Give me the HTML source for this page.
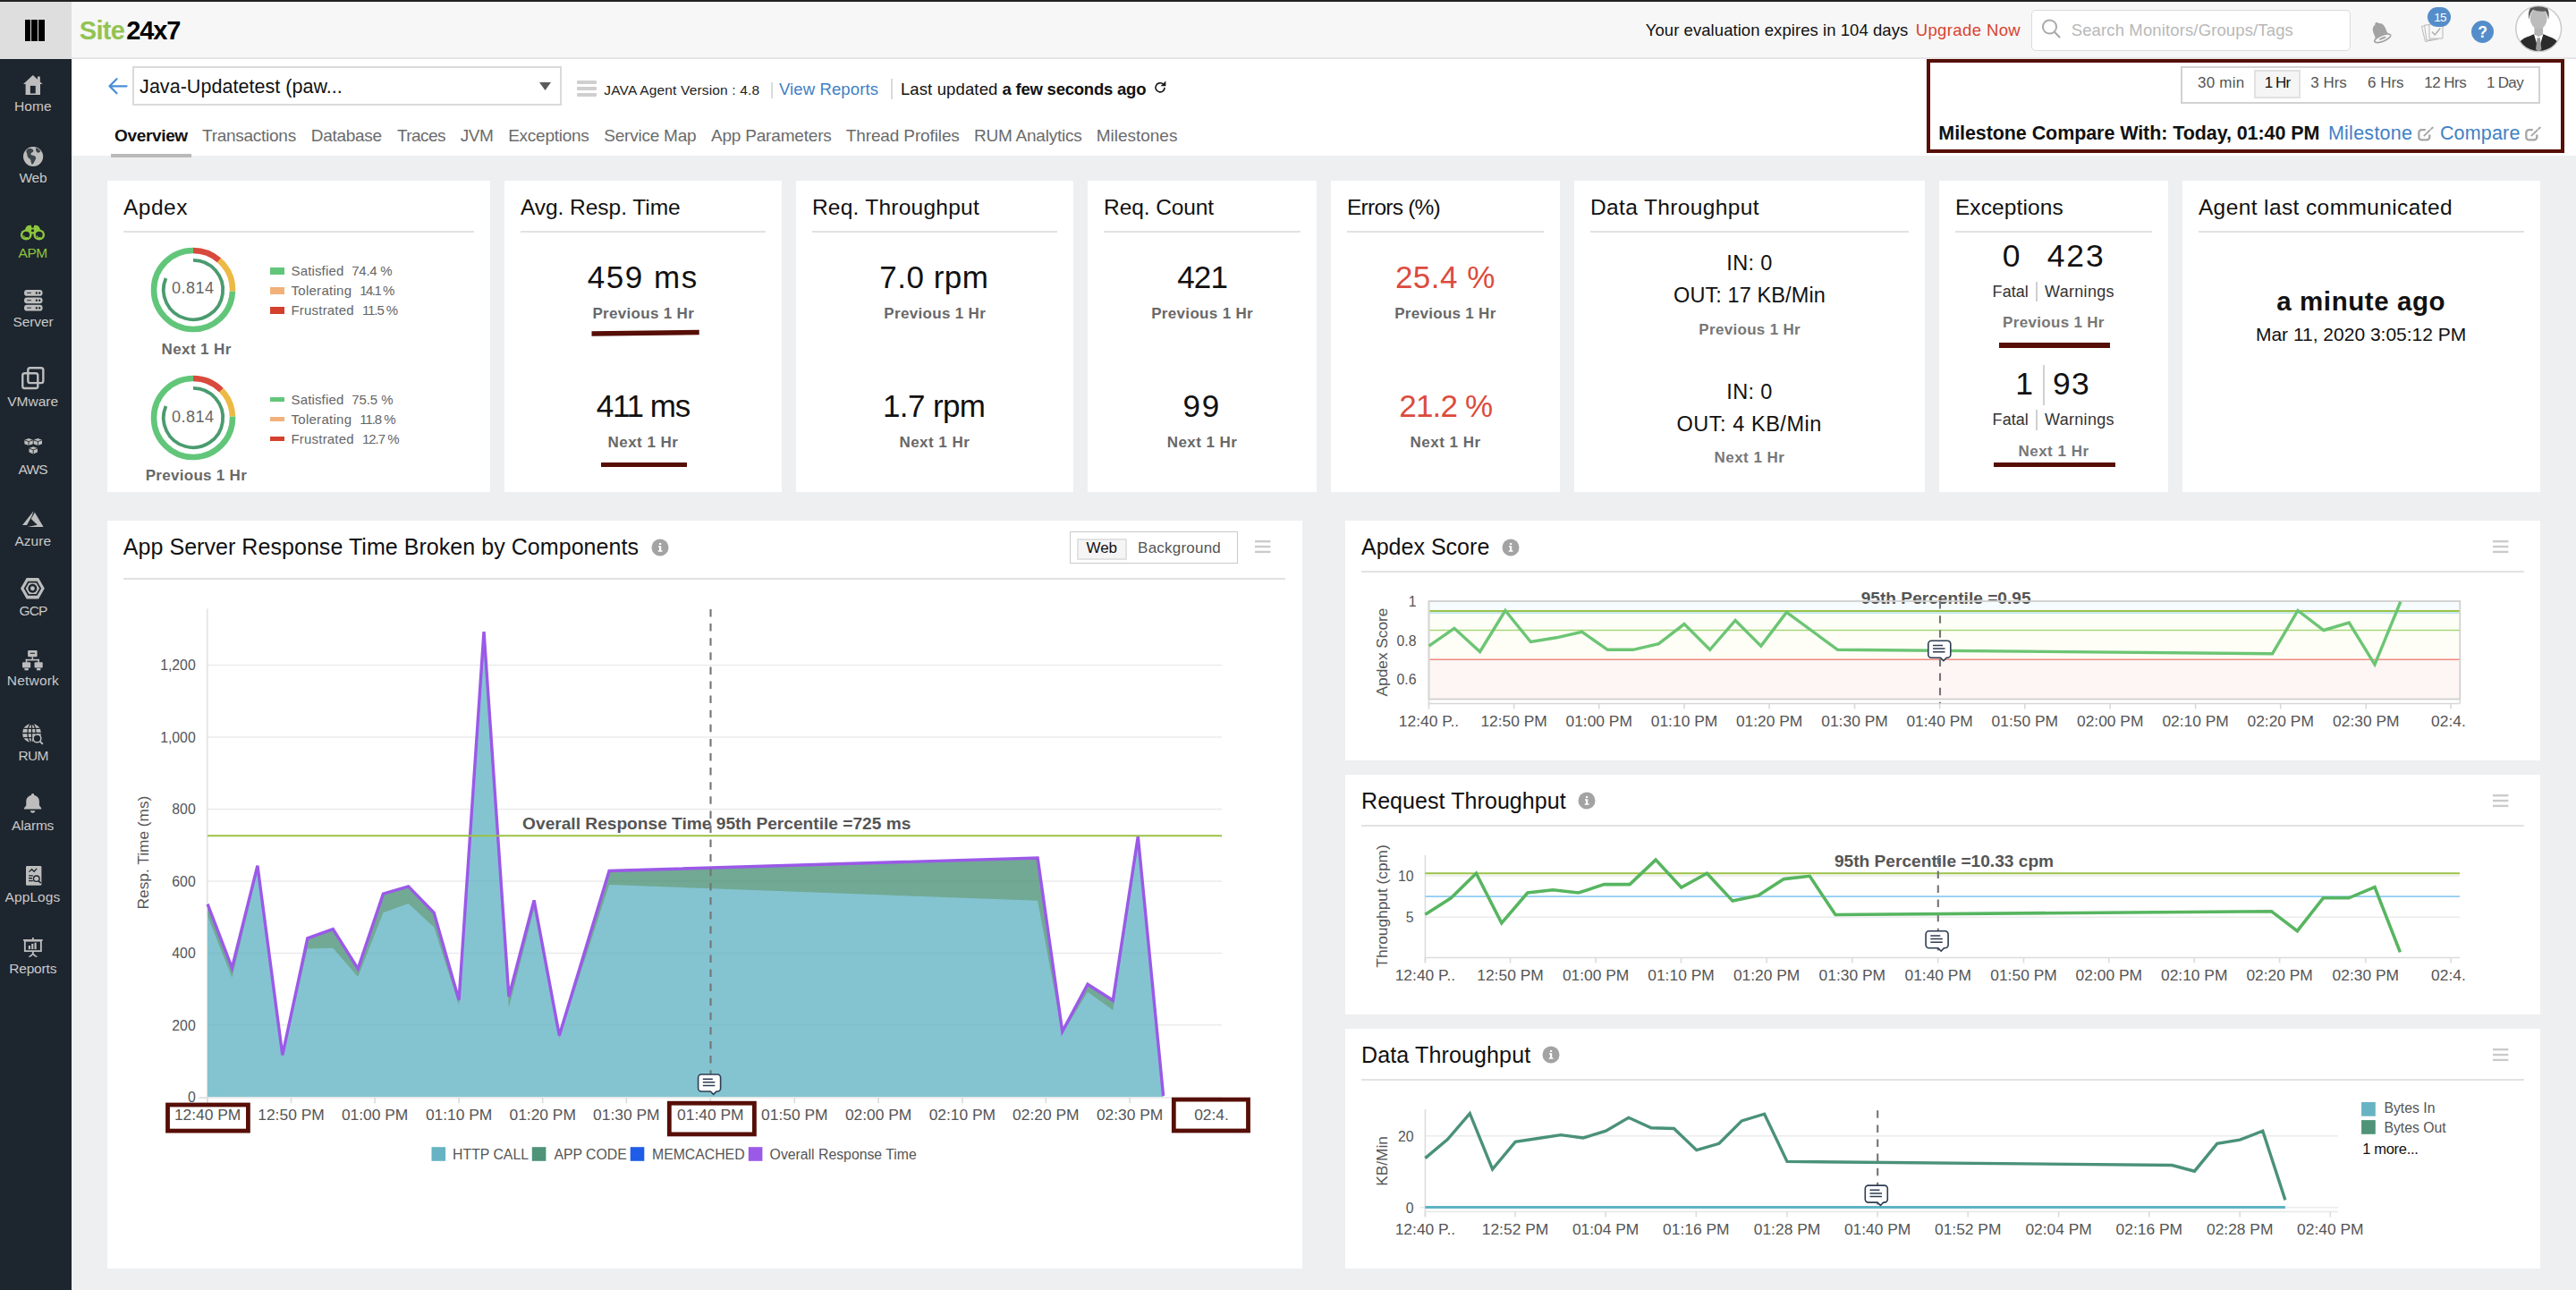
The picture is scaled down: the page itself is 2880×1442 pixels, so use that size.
<!DOCTYPE html>
<html lang="en"><head><meta charset="utf-8"><title>Site24x7 - APM Overview</title>
<style>
html,body{margin:0;padding:0;}
body{width:2880px;height:1442px;overflow:hidden;background:#eeeff1;font-family:"Liberation Sans",Arial,sans-serif;position:relative;}
.t{position:absolute;white-space:nowrap;line-height:1;}
svg{overflow:visible;}
svg text{font-family:"Liberation Sans",Arial,sans-serif;}
</style></head><body>
<div style="position:absolute;left:0.0px;top:0.0px;width:2880.0px;height:2.0px;background:#222;"></div>
<div style="position:absolute;left:0.0px;top:2.0px;width:2880.0px;height:62.0px;background:#f7f7f7;"></div>
<div style="position:absolute;left:0.0px;top:64.0px;width:2880.0px;height:2.0px;background:#e6e6e6;"></div>
<div style="position:absolute;left:0.0px;top:2.0px;width:80.0px;height:64.0px;background:#dedede;"></div>
<div style="position:absolute;left:27.8px;top:21.7px;width:6.2px;height:24.5px;background:#000;"></div>
<div style="position:absolute;left:35.3px;top:21.7px;width:6.6px;height:24.5px;background:#000;"></div>
<div style="position:absolute;left:43.2px;top:21.7px;width:6.8px;height:24.5px;background:#000;"></div>
<span class="t" style="left:88.8px;top:20.0px;font-size:29.00px;letter-spacing:-0.672px;font-weight:700;color:#92c353;">Site</span>
<span class="t" style="left:141.3px;top:20.0px;font-size:29.00px;letter-spacing:-1.104px;font-weight:700;color:#000;">24x7</span>
<span class="t" style="left:1839.8px;top:25.0px;font-size:18.50px;letter-spacing:0.060px;color:#111;">Your evaluation expires in 104 days</span>
<span class="t" style="left:2141.7px;top:25.0px;font-size:18.50px;letter-spacing:0.389px;color:#d9432f;">Upgrade Now</span>
<div style="position:absolute;left:2271.0px;top:10.8px;width:356.5px;height:46.6px;background:#fff;border:1.5px solid #dcdcdc;border-radius:5px;box-sizing:border-box;"></div>
<svg style="position:absolute;left:2279px;top:18px" width="28" height="28" viewBox="0 0 28 28"><circle cx="12.5" cy="12" r="7.6" fill="none" stroke="#aaa" stroke-width="2"/><path d="M18 17.8 L23.5 23.5" stroke="#aaa" stroke-width="2.2" stroke-linecap="round"/></svg>
<span class="t" style="left:2315.7px;top:25.0px;font-size:18.50px;letter-spacing:0.132px;color:#b8b8b8;">Search Monitors/Groups/Tags</span>
<svg style="position:absolute;left:2648px;top:21.500px" width="26" height="28" viewBox="0 0 26 28"><g transform="rotate(-22 13 14)"><path d="M13 2.200c-1.100 0-1.900.8-1.900 1.800-3.300.9-5.300 3.700-5.300 7.500v5.800l-1.700 2.500h17.800l-1.700-2.500v-5.800c0-3.800-2-6.600-5.300-7.500 0-1-.8-1.800-1.900-1.800z" fill="#a3a3a3"/><ellipse cx="13" cy="21.300" rx="9.600" ry="3.400" fill="#f7f7f7" stroke="#a3a3a3" stroke-width="1.700"/><ellipse cx="13" cy="21.300" rx="4.200" ry="1.100" fill="#a3a3a3"/></g></svg>
<svg style="position:absolute;left:2706px;top:25px" width="27" height="24" viewBox="0 0 27 24"><g fill="#f7f7f7" stroke="#b9b9b9" stroke-width="1"><path d="M1.500 4.500 L14 2 L18 19 L5.500 21.500 Z"/><path d="M4.500 3.200 L18 2.200 L20 18.800 L7 20 Z"/><path d="M10 2h15v16H10z"/></g><path d="M13 10.500l3.300 3.500 6-7.500" fill="none" stroke="#a9a9a9" stroke-width="1.300"/></svg>
<div style="position:absolute;left:2713.9px;top:7.9px;width:26.2px;height:22.2px;background:#548dc9;border-radius:11.100px;"></div>
<span class="t" style="left:2721.2px;top:13.0px;font-size:13.50px;letter-spacing:-0.808px;color:#fff;">15</span>
<div style="position:absolute;left:2762.8px;top:22.7px;width:25.2px;height:25.0px;background:#548dc9;border-radius:50%;"></div>
<span class="t" style="left:2770.2px;top:28.0px;font-size:17.50px;letter-spacing:0.110px;font-weight:700;color:#fff;">?</span>
<svg style="position:absolute;left:2811px;top:5px" width="54" height="54" viewBox="0 0 54 54"><defs><clipPath id="avc"><circle cx="27.200" cy="27.100" r="24.800"/></clipPath></defs><circle cx="27.200" cy="27.100" r="25.400" fill="#fff" stroke="#cdcdcd" stroke-width="1.600"/><g clip-path="url(#avc)"><g transform="translate(27.200 56) scale(1.140) translate(-27.200 -56)"><path d="M5 54c0-9 5-13.500 13-16l5.500-2.500h7.500l5.500 2.500c8 2.500 13 7 13 16z" fill="#2b2b2b"/><path d="M22.500 35.500l4.700 16 4.700-16-4.700 2.500z" fill="#fff"/><path d="M25.800 39.500h2.800l1.400 11-2.800 3.500-2.800-3.500z" fill="#9a9a9a"/><path d="M23 29h8.500v6.500l-4.300 3-4.200-3z" fill="#b5b5b5"/><ellipse cx="27.200" cy="20.500" rx="8.300" ry="10.500" fill="#bcbcbc"/><path d="M17.800 21.500c-2-9.500 2.500-16 9.500-16s11.500 6 9.500 16c-.5-3.500-1.500-6-3-8-4.500.5-9 0-12-1.500-2 2-3.500 5-4 9.500z" fill="#585858"/></g></g></svg>
<div style="position:absolute;left:0.0px;top:66.0px;width:80.0px;height:1376.0px;background:#1d252e;"></div>
<svg style="position:absolute;left:26.1px;top:83.9px" width="21.6" height="21.9" viewBox="1.5 2 25 23" preserveAspectRatio="none"><path d="M14 2 L1.5 12.5 L4.5 12.5 L4.5 25 L23.5 25 L23.5 12.5 L26.5 12.5 L23.3 9.8 L23.3 3.6 L20 3.6 L20 7 Z" fill="#bdbdbd"/><rect x="10.6" y="14.5" width="6.8" height="9" fill="#1d252e"/></svg>
<span class="t" style="left:16.1px;top:111.0px;font-size:15.50px;letter-spacing:0.038px;color:#c9c9c9;">Home</span>
<svg style="position:absolute;left:25.8px;top:164.1px" width="22.2" height="21.9" viewBox="2 2 24 24" preserveAspectRatio="none"><circle cx="14" cy="14" r="12" fill="#bdbdbd"/><path d="M8 4.500c2.500-.5 5 0 6 1.500s-.5 2.500-2 3.500-1 2.500.5 3 3.500.5 4.500 2-.5 3.500-1.500 5.500-2 4-3 3.500-1-3-1.500-5-2.500-2-3.500-4-.5-4-1.500-5.500 0-3.500 2-4.500z M17.500 3.500c2 .5 4 2 5.500 4.500l-2.500 1.500c-1.500 0-2.500-1-3-2.500s-.5-2.500 0-3.500z" fill="#1d252e" opacity=".8"/></svg>
<span class="t" style="left:21.4px;top:191.0px;font-size:15.50px;letter-spacing:-0.197px;color:#c9c9c9;">Web</span>
<svg style="position:absolute;left:22.4px;top:251.1px" width="29.0" height="17.4" viewBox="0 3 32 20.5" preserveAspectRatio="none"><path d="M7 8.500 q1.500 -5.500 7 -4.500 l1 3.500 h2 l1 -3.500 q5.500 -1 7 4.500 l3 7 h-24z" fill="#8dc63f"/><circle cx="8" cy="16.500" r="7" fill="#8dc63f"/><circle cx="24" cy="16.500" r="7" fill="#8dc63f"/><circle cx="8" cy="16.500" r="4.300" fill="#1d252e"/><circle cx="24" cy="16.500" r="4.300" fill="#1d252e"/><path d="M5 17.500a3.200 3.200 0 0 0 5 2.300M21 17.500a3.200 3.200 0 0 0 5 2.300" fill="none" stroke="#8dc63f" stroke-width="1.300"/><circle cx="16" cy="11" r="1.800" fill="#1d252e"/></svg>
<span class="t" style="left:20.6px;top:275.0px;font-size:15.50px;letter-spacing:-0.497px;color:#8dc63f;">APM</span>
<svg style="position:absolute;left:26.6px;top:324.4px" width="20.6" height="23.6" viewBox="1 1 26 27" preserveAspectRatio="none"><g fill="#bdbdbd"><rect x="1" y="1" width="26" height="7.800" rx="3.900"/><rect x="1" y="10.600" width="26" height="7.800" rx="3.900"/><rect x="1" y="20.200" width="26" height="7.800" rx="3.900"/></g><g fill="#1d252e"><circle cx="18.500" cy="4.900" r="1.400"/><circle cx="22.700" cy="4.900" r="1.400"/><circle cx="18.500" cy="14.500" r="1.400"/><circle cx="22.700" cy="14.500" r="1.400"/><circle cx="18.500" cy="24.100" r="1.400"/><circle cx="22.700" cy="24.100" r="1.400"/><rect x="5" y="4.300" width="6" height="1.100"/><rect x="5" y="13.900" width="6" height="1.100"/><rect x="5" y="23.500" width="6" height="1.100"/></g></svg>
<span class="t" style="left:14.4px;top:352.0px;font-size:15.50px;letter-spacing:-0.076px;color:#c9c9c9;">Server</span>
<svg style="position:absolute;left:24.1px;top:409.6px" width="25.6" height="25.3" viewBox="0.2 0.2 26.6 26.6" preserveAspectRatio="none"><g fill="none" stroke="#bdbdbd" stroke-width="2.500"><rect x="7.800" y="1.500" width="17.700" height="17.700" rx="2.500"/><rect x="1.500" y="7.800" width="17.700" height="17.700" rx="2.500"/></g></svg>
<span class="t" style="left:8.2px;top:441.0px;font-size:15.50px;letter-spacing:0.009px;color:#c9c9c9;">VMware</span>
<svg style="position:absolute;left:26.8px;top:490.3px" width="20.4" height="17.9" viewBox="2.5 1 23 24" preserveAspectRatio="none"><g fill="#bdbdbd"><path d="M8.200 1l5.300 2.300v6l-5.300 2.500-5.300-2.500v-6z"/><path d="M19.800 1l5.300 2.300v6l-5.300 2.500-5.300-2.500v-6z"/><path d="M14 13.500l5.300 2.300v6L14 24.500l-5.300-2.700v-6z"/></g><g stroke="#1d252e" stroke-width="1.100" fill="none"><path d="M2.900 3.500l5.300 2.300 5.300-2.300M8.200 5.800v6M14.500 3.500l5.300 2.300 5.300-2.300M19.800 5.800v6M8.700 16l5.300 2.300 5.300-2.300M14 18.300v6"/></g></svg>
<span class="t" style="left:20.6px;top:517.0px;font-size:15.50px;letter-spacing:-0.811px;color:#c9c9c9;">AWS</span>
<svg style="position:absolute;left:24.8px;top:571.1px" width="23.6" height="18.1" viewBox="1 2 26 22" preserveAspectRatio="none"><path d="M15 2 L1 21.500 L6.500 21.500 L12.500 9.500 Z M16.300 4.200 L27 24 L7.500 24 L19.500 21.300 L11.800 12.800 Z" fill="#bdbdbd"/></svg>
<span class="t" style="left:16.4px;top:597.0px;font-size:15.50px;letter-spacing:0.041px;color:#c9c9c9;">Azure</span>
<svg style="position:absolute;left:23.4px;top:646.4px" width="26.8" height="23.6" viewBox="1.5 2 26 23" preserveAspectRatio="none"><path d="M8 2h13l6.500 11.500L21 25H8L1.500 13.500z" fill="#bdbdbd"/><path d="M10 6.500h9l4 7-4 7h-9l-4-7z" fill="none" stroke="#1d252e" stroke-width="1.700"/><circle cx="14.500" cy="13.500" r="4.800" fill="#1d252e"/><circle cx="14.500" cy="13.500" r="2.400" fill="#bdbdbd"/></svg>
<span class="t" style="left:21.6px;top:675.0px;font-size:15.50px;letter-spacing:-0.930px;color:#c9c9c9;">GCP</span>
<svg style="position:absolute;left:25.4px;top:727.1px" width="22.7" height="22.3" viewBox="1 1 26 24.5" preserveAspectRatio="none"><g fill="#bdbdbd"><rect x="8" y="1" width="12" height="8" rx="1.200"/><rect x="1" y="15.500" width="10.500" height="7" rx="1.200"/><rect x="16.500" y="15.500" width="10.500" height="7" rx="1.200"/><rect x="13.100" y="9" width="1.800" height="4"/><rect x="5.300" y="11.800" width="17.400" height="1.800"/><rect x="5.300" y="11.800" width="1.800" height="4.500"/><rect x="20.900" y="11.800" width="1.800" height="4.500"/><rect x="3.800" y="23" width="5" height="2.500"/><rect x="19.300" y="23" width="5" height="2.500"/><rect x="11" y="4" width="6" height="1.200" fill="#1d252e"/></g></svg>
<span class="t" style="left:7.8px;top:753.0px;font-size:15.50px;letter-spacing:0.193px;color:#c9c9c9;">Network</span>
<svg style="position:absolute;left:25.4px;top:808.9px" width="23.3" height="23.3" viewBox="1.5 1.5 25.5 25.5" preserveAspectRatio="none"><circle cx="13" cy="13" r="11.500" fill="#bdbdbd"/><g fill="none" stroke="#1d252e" stroke-width="1.400"><ellipse cx="13" cy="13" rx="5" ry="11.500"/><path d="M1.500 13h23M13 1.500v23M3 7.500h20M3 18.500h20"/></g><circle cx="19.500" cy="19.500" r="4.800" fill="#1d252e" stroke="#bdbdbd" stroke-width="1.700"/><path d="M23 23l3.500 3.500" stroke="#bdbdbd" stroke-width="2.200"/></svg>
<span class="t" style="left:20.5px;top:837.0px;font-size:15.50px;letter-spacing:-0.733px;color:#c9c9c9;">RUM</span>
<svg style="position:absolute;left:27.3px;top:887.4px" width="19.2" height="21.7" viewBox="3.5 1.5 21 26" preserveAspectRatio="none"><path d="M14 1.500c1 0 1.800.8 1.800 1.800v.6c3.800.9 6.200 4 6.200 8.100v5.500l2.500 3.500v1.500h-21v-1.500L6 17.500V12c0-4.100 2.400-7.200 6.200-8.100v-.6c0-1 .8-1.800 1.800-1.800z" fill="#bdbdbd"/><path d="M11 24.500h6c0 1.700-1.300 3-3 3s-3-1.300-3-3z" fill="#bdbdbd"/></svg>
<span class="t" style="left:13.0px;top:915.0px;font-size:15.50px;letter-spacing:-0.171px;color:#c9c9c9;">Alarms</span>
<svg style="position:absolute;left:28.5px;top:968.0px" width="17.4" height="21.7" viewBox="4 1 20 26" preserveAspectRatio="none"><rect x="4" y="1" width="20" height="26" rx="1.500" fill="#bdbdbd"/><path d="M8 9l3.500-3.500 3 3 3.500-4" fill="none" stroke="#1d252e" stroke-width="1.500"/><path d="M7.500 14h5.500M7.500 17.500h4.500M7.500 21h5.500" stroke="#1d252e" stroke-width="1.600"/><circle cx="17.500" cy="18" r="3.800" fill="#bdbdbd" stroke="#1d252e" stroke-width="1.600"/><path d="M20 20.800l3.200 3.200" stroke="#1d252e" stroke-width="2"/></svg>
<span class="t" style="left:5.6px;top:995.0px;font-size:15.50px;letter-spacing:0.073px;color:#c9c9c9;">AppLogs</span>
<svg style="position:absolute;left:26.4px;top:1048.0px" width="21.7" height="21.7" viewBox="1 1 26 26.5" preserveAspectRatio="none"><path d="M1 3.500h26v2.200H1z" fill="#bdbdbd"/><rect x="3.200" y="5.500" width="21.600" height="14" fill="none" stroke="#bdbdbd" stroke-width="2.200"/><g fill="#bdbdbd"><rect x="8" y="12" width="2.600" height="5"/><rect x="12" y="9.500" width="2.600" height="7.500"/><rect x="16" y="8" width="2.600" height="9"/><rect x="12.900" y="1" width="2.200" height="3"/><path d="M12.900 20.500h2.200v2.500l5.400 4.500h-3.200l-3.300-2.800-3.300 2.800H7.500l5.400-4.500z"/></g></svg>
<span class="t" style="left:10.2px;top:1075.0px;font-size:15.50px;letter-spacing:-0.168px;color:#c9c9c9;">Reports</span>
<div style="position:absolute;left:80.0px;top:66.0px;width:2800.0px;height:108.0px;background:#fff;"></div>
<svg style="position:absolute;left:120px;top:84px" width="24" height="24" viewBox="0 0 24 24"><path d="M21.500 12.300H3M10.500 4.300L2.500 12.300l8 8" fill="none" stroke="#4a8fd6" stroke-width="2.300" stroke-linecap="round" stroke-linejoin="round"/></svg>
<div style="position:absolute;left:148.3px;top:74.3px;width:479.9px;height:43.9px;background:#fff;border:2px solid #dadada;box-sizing:border-box;"></div>
<span class="t" style="left:156.1px;top:87.0px;font-size:21.50px;letter-spacing:0.036px;color:#111;">Java-Updatetest (paw...</span>
<svg style="position:absolute;left:603px;top:91.500px" width="13" height="9" viewBox="0 0 13 9"><path d="M0 0h13L6.500 9z" fill="#5a5a5a"/></svg>
<div style="position:absolute;left:644.6px;top:89.5px;width:22.4px;height:4.0px;background:#cfcfcf;border-radius:1px;"></div>
<div style="position:absolute;left:644.6px;top:96.5px;width:22.4px;height:4.0px;background:#cfcfcf;border-radius:1px;"></div>
<div style="position:absolute;left:644.6px;top:103.5px;width:22.4px;height:4.0px;background:#cfcfcf;border-radius:1px;"></div>
<span class="t" style="left:675.3px;top:93.0px;font-size:15.50px;letter-spacing:0.165px;color:#222;">JAVA Agent Version : 4.8</span>
<div style="position:absolute;left:862.2px;top:92.0px;width:1.5px;height:18.0px;background:#dadada;"></div>
<span class="t" style="left:870.9px;top:91.0px;font-size:18.50px;letter-spacing:0.126px;color:#3f7fc4;">View Reports</span>
<div style="position:absolute;left:996.0px;top:88.4px;width:1.6px;height:22.9px;background:#dadada;"></div>
<span class="t" style="left:1006.9px;top:91.0px;font-size:18.50px;letter-spacing:0.135px;color:#111;">Last updated</span>
<span class="t" style="left:1120.5px;top:91.0px;font-size:18.50px;letter-spacing:-0.223px;font-weight:700;color:#111;">a few seconds ago</span>
<svg style="position:absolute;left:1289.600px;top:90.300px" width="14.200" height="14.200" viewBox="0 0 18 18"><path d="M15.300 10a6.400 6.400 0 1 1-2.300-5" fill="none" stroke="#1a1a1a" stroke-width="2"/><path d="M17 .5v7.500H9.500z" fill="#1a1a1a"/></svg>
<span class="t" style="left:128.1px;top:142.0px;font-size:19.00px;letter-spacing:-0.350px;font-weight:700;color:#111;">Overview</span>
<span class="t" style="left:226.0px;top:142.0px;font-size:19.00px;letter-spacing:-0.264px;color:#6b6b6b;">Transactions</span>
<span class="t" style="left:347.7px;top:142.0px;font-size:19.00px;letter-spacing:-0.267px;color:#6b6b6b;">Database</span>
<span class="t" style="left:444.0px;top:142.0px;font-size:19.00px;letter-spacing:-0.561px;color:#6b6b6b;">Traces</span>
<span class="t" style="left:514.8px;top:142.0px;font-size:19.00px;letter-spacing:-0.467px;color:#6b6b6b;">JVM</span>
<span class="t" style="left:568.2px;top:142.0px;font-size:19.00px;letter-spacing:-0.254px;color:#6b6b6b;">Exceptions</span>
<span class="t" style="left:675.3px;top:142.0px;font-size:19.00px;letter-spacing:-0.227px;color:#6b6b6b;">Service Map</span>
<span class="t" style="left:794.9px;top:142.0px;font-size:19.00px;letter-spacing:-0.185px;color:#6b6b6b;">App Parameters</span>
<span class="t" style="left:945.8px;top:142.0px;font-size:19.00px;letter-spacing:-0.129px;color:#6b6b6b;">Thread Profiles</span>
<span class="t" style="left:1088.9px;top:142.0px;font-size:19.00px;letter-spacing:-0.218px;color:#6b6b6b;">RUM Analytics</span>
<span class="t" style="left:1225.8px;top:142.0px;font-size:19.00px;letter-spacing:-0.022px;color:#6b6b6b;">Milestones</span>
<div style="position:absolute;left:124.1px;top:172.2px;width:89.8px;height:3.6px;background:#b9b9b9;"></div>
<div style="position:absolute;left:2154.3px;top:66.0px;width:712.7px;height:105.2px;border:4.800px solid #560e06;box-sizing:border-box;"></div>
<div style="position:absolute;left:2438.2px;top:74.0px;width:401.7px;height:41.9px;border:2px solid #d2d2d2;box-sizing:border-box;background:#fff;"></div>
<div style="position:absolute;left:2520.2px;top:78.3px;width:51.6px;height:31.3px;border:2px solid #e1e1e1;box-sizing:border-box;background:#f5f5f5;"></div>
<span class="t" style="left:2457.0px;top:84.0px;font-size:17.00px;letter-spacing:0.229px;color:#555;">30 min</span>
<span class="t" style="left:2531.7px;top:84.0px;font-size:17.00px;letter-spacing:-0.904px;color:#111;">1 Hr</span>
<span class="t" style="left:2583.2px;top:84.0px;font-size:17.00px;letter-spacing:0.017px;color:#555;">3 Hrs</span>
<span class="t" style="left:2647.0px;top:84.0px;font-size:17.00px;color:#555;">6 Hrs</span>
<span class="t" style="left:2710.3px;top:84.0px;font-size:17.00px;letter-spacing:-0.529px;color:#555;">12 Hrs</span>
<span class="t" style="left:2779.9px;top:84.0px;font-size:17.00px;letter-spacing:-0.662px;color:#555;">1 Day</span>
<span class="t" style="left:2167.3px;top:139.0px;font-size:21.50px;letter-spacing:-0.079px;font-weight:700;color:#111;">Milestone Compare With: Today, 01:40 PM</span>
<span class="t" style="left:2602.9px;top:139.0px;font-size:21.50px;letter-spacing:0.265px;color:#3f7fc4;">Milestone</span>
<span class="t" style="left:2727.9px;top:139.0px;font-size:21.50px;letter-spacing:0.182px;color:#3f7fc4;">Compare</span>
<svg style="position:absolute;left:2702.8px;top:142.300px" width="18" height="16" viewBox="0 0 18 16"><path d="M13.300 8.500v2.700a3.200 3.200 0 0 1-3.200 3.200H4.500a3.200 3.200 0 0 1-3.200-3.200V6.400a3.200 3.200 0 0 1 3.200-3.200h4.300" fill="none" stroke="#a5a5a5" stroke-width="2.300"/><path d="M6.800 10.200L14.200 3" stroke="#a5a5a5" stroke-width="1.800"/><path d="M15.300 2l1.400-1.400" stroke="#a5a5a5" stroke-width="2" stroke-linecap="round"/></svg>
<svg style="position:absolute;left:2823.3px;top:142.300px" width="18" height="16" viewBox="0 0 18 16"><path d="M13.300 8.500v2.700a3.200 3.200 0 0 1-3.200 3.200H4.500a3.200 3.200 0 0 1-3.200-3.200V6.400a3.200 3.200 0 0 1 3.200-3.200h4.300" fill="none" stroke="#a5a5a5" stroke-width="2.300"/><path d="M6.800 10.200L14.200 3" stroke="#a5a5a5" stroke-width="1.800"/><path d="M15.300 2l1.400-1.400" stroke="#a5a5a5" stroke-width="2" stroke-linecap="round"/></svg>
<div class="card" style="position:absolute;left:120.0px;top:202.0px;width:428.0px;height:348.0px;background:#fff;"></div>
<span class="t" style="left:137.9px;top:220.0px;font-size:24.50px;letter-spacing:0.526px;color:#111;">Apdex</span>
<div style="position:absolute;left:137.9px;top:257.8px;width:392.2px;height:2.2px;background:#e2e2e2;"></div>
<svg style="position:absolute;left:166.0px;top:273.6px" width="100" height="100" viewBox="166.0 273.6 100 100"><path d="M216.00 279.60 A44.00 44.00 0 0 1 245.10 290.60" fill="none" stroke="#d84a3c" stroke-width="6.600"/><path d="M245.10 290.60 A44.00 44.00 0 0 1 259.97 325.26" fill="none" stroke="#ecb945" stroke-width="6.600"/><path d="M259.97 325.26 A44.00 44.00 0 1 1 216.00 279.60" fill="none" stroke="#62c67a" stroke-width="6.600"/><path d="M216.00 290.40 A33.20 33.20 0 1 1 185.44 310.63" fill="none" stroke="#4a9b6f" stroke-width="3.800"/></svg>
<span class="t" style="left:192.1px;top:313.0px;font-size:18.00px;letter-spacing:0.491px;color:#666;">0.814</span>
<span class="t" style="left:180.6px;top:382.0px;font-size:17.00px;letter-spacing:0.384px;font-weight:700;color:#686868;">Next 1 Hr</span>
<div style="position:absolute;left:301.9px;top:298.6px;width:16.2px;height:8.0px;background:#62c67a;"></div>
<span class="t" style="left:325.5px;top:295.0px;font-size:15.00px;letter-spacing:0.152px;color:#666;">Satisfied</span>
<span class="t" style="left:393.3px;top:295.0px;font-size:15.00px;letter-spacing:-0.300px;color:#666;">74.4 %</span>
<div style="position:absolute;left:301.9px;top:320.9px;width:16.2px;height:8.0px;background:#f0b27a;"></div>
<span class="t" style="left:325.5px;top:317.0px;font-size:15.00px;letter-spacing:0.276px;color:#666;">Tolerating</span>
<span class="t" style="left:402.2px;top:317.0px;font-size:15.00px;letter-spacing:-1.500px;color:#666;">14.1 %</span>
<div style="position:absolute;left:301.9px;top:342.9px;width:16.2px;height:8.0px;background:#d4402c;"></div>
<span class="t" style="left:325.5px;top:339.0px;font-size:15.00px;letter-spacing:0.194px;color:#666;">Frustrated</span>
<span class="t" style="left:404.9px;top:339.0px;font-size:15.00px;letter-spacing:-1.081px;color:#666;">11.5 %</span>
<svg style="position:absolute;left:166.0px;top:417.3px" width="100" height="100" viewBox="166.0 417.3 100 100"><path d="M216.00 423.30 A44.00 44.00 0 0 1 247.50 436.58" fill="none" stroke="#d84a3c" stroke-width="6.600"/><path d="M247.50 436.58 A44.00 44.00 0 0 1 259.98 465.92" fill="none" stroke="#ecb945" stroke-width="6.600"/><path d="M259.98 465.92 A44.00 44.00 0 1 1 216.00 423.30" fill="none" stroke="#62c67a" stroke-width="6.600"/><path d="M216.00 434.10 A33.20 33.20 0 1 1 185.44 454.33" fill="none" stroke="#4a9b6f" stroke-width="3.800"/></svg>
<span class="t" style="left:192.1px;top:457.0px;font-size:18.00px;letter-spacing:0.491px;color:#666;">0.814</span>
<span class="t" style="left:162.7px;top:523.0px;font-size:17.00px;letter-spacing:0.292px;font-weight:700;color:#686868;">Previous 1 Hr</span>
<div style="position:absolute;left:301.9px;top:444.2px;width:16.2px;height:4.5px;background:#62c67a;"></div>
<span class="t" style="left:325.5px;top:439.0px;font-size:15.00px;letter-spacing:0.152px;color:#666;">Satisfied</span>
<span class="t" style="left:393.3px;top:439.0px;font-size:15.00px;letter-spacing:-0.100px;color:#666;">75.5 %</span>
<div style="position:absolute;left:301.9px;top:466.3px;width:16.2px;height:4.5px;background:#f0b27a;"></div>
<span class="t" style="left:325.5px;top:461.0px;font-size:15.00px;letter-spacing:0.276px;color:#666;">Tolerating</span>
<span class="t" style="left:402.2px;top:461.0px;font-size:15.00px;letter-spacing:-1.031px;color:#666;">11.8 %</span>
<div style="position:absolute;left:301.9px;top:488.3px;width:16.2px;height:4.5px;background:#d4402c;"></div>
<span class="t" style="left:325.5px;top:483.0px;font-size:15.00px;letter-spacing:0.194px;color:#666;">Frustrated</span>
<span class="t" style="left:404.9px;top:483.0px;font-size:15.00px;letter-spacing:-0.983px;color:#666;">12.7 %</span>
<div class="card" style="position:absolute;left:564.0px;top:202.0px;width:310.0px;height:348.0px;background:#fff;"></div>
<span class="t" style="left:581.9px;top:220.0px;font-size:24.50px;letter-spacing:-0.033px;color:#111;">Avg. Resp. Time</span>
<div style="position:absolute;left:581.9px;top:257.8px;width:274.2px;height:2.2px;background:#e2e2e2;"></div>
<span class="t" style="left:656.8px;top:292.0px;font-size:35.00px;letter-spacing:1.520px;color:#111;">459 ms</span>
<span class="t" style="left:662.4px;top:342.0px;font-size:17.00px;letter-spacing:0.315px;font-weight:700;color:#686868;">Previous 1 Hr</span>
<span class="t" style="left:666.8px;top:436.0px;font-size:35.00px;letter-spacing:-1.363px;color:#111;">411 ms</span>
<span class="t" style="left:679.5px;top:486.0px;font-size:17.00px;letter-spacing:0.473px;font-weight:700;color:#686868;">Next 1 Hr</span>
<svg style="position:absolute;left:655px;top:365px" width="135" height="14" viewBox="655 365 135 14"><path d="M661.500 373 L781.700 371.600" stroke="#560e06" stroke-width="5.500"/></svg>
<div style="position:absolute;left:672.4px;top:517.2px;width:95.9px;height:5.2px;background:#560e06;"></div>
<div class="card" style="position:absolute;left:890.0px;top:202.0px;width:310.2px;height:348.0px;background:#fff;"></div>
<span class="t" style="left:907.9px;top:220.0px;font-size:24.50px;letter-spacing:0.245px;color:#111;">Req. Throughput</span>
<div style="position:absolute;left:907.9px;top:257.8px;width:274.4px;height:2.2px;background:#e2e2e2;"></div>
<span class="t" style="left:983.2px;top:292.0px;font-size:35.00px;letter-spacing:0.520px;color:#111;">7.0 rpm</span>
<span class="t" style="left:988.3px;top:342.0px;font-size:17.00px;letter-spacing:0.323px;font-weight:700;color:#686868;">Previous 1 Hr</span>
<span class="t" style="left:986.9px;top:436.0px;font-size:35.00px;letter-spacing:-0.594px;color:#111;">1.7 rpm</span>
<span class="t" style="left:1005.4px;top:486.0px;font-size:17.00px;letter-spacing:0.473px;font-weight:700;color:#686868;">Next 1 Hr</span>
<div class="card" style="position:absolute;left:1216.2px;top:202.0px;width:255.6px;height:348.0px;background:#fff;"></div>
<span class="t" style="left:1234.1px;top:220.0px;font-size:24.50px;letter-spacing:-0.104px;color:#111;">Req. Count</span>
<div style="position:absolute;left:1234.1px;top:257.8px;width:219.8px;height:2.2px;background:#e2e2e2;"></div>
<span class="t" style="left:1316.3px;top:292.0px;font-size:35.00px;letter-spacing:-0.899px;color:#111;">421</span>
<span class="t" style="left:1287.2px;top:342.0px;font-size:17.00px;letter-spacing:0.323px;font-weight:700;color:#686868;">Previous 1 Hr</span>
<span class="t" style="left:1322.4px;top:436.0px;font-size:35.00px;letter-spacing:1.884px;color:#111;">99</span>
<span class="t" style="left:1304.7px;top:486.0px;font-size:17.00px;letter-spacing:0.429px;font-weight:700;color:#686868;">Next 1 Hr</span>
<div class="card" style="position:absolute;left:1488.1px;top:202.0px;width:255.9px;height:348.0px;background:#fff;"></div>
<span class="t" style="left:1506.0px;top:220.0px;font-size:24.50px;letter-spacing:-0.761px;color:#111;">Errors (%)</span>
<div style="position:absolute;left:1506.0px;top:257.8px;width:220.1px;height:2.2px;background:#e2e2e2;"></div>
<span class="t" style="left:1559.9px;top:292.0px;font-size:35.00px;letter-spacing:0.506px;color:#dc4b3e;">25.4 %</span>
<span class="t" style="left:1559.2px;top:342.0px;font-size:17.00px;letter-spacing:0.292px;font-weight:700;color:#686868;">Previous 1 Hr</span>
<span class="t" style="left:1564.3px;top:436.0px;font-size:35.00px;letter-spacing:-0.844px;color:#dc4b3e;">21.2 %</span>
<span class="t" style="left:1576.6px;top:486.0px;font-size:17.00px;letter-spacing:0.473px;font-weight:700;color:#686868;">Next 1 Hr</span>
<div class="card" style="position:absolute;left:1760.0px;top:202.0px;width:392.0px;height:348.0px;background:#fff;"></div>
<span class="t" style="left:1777.9px;top:220.0px;font-size:24.50px;letter-spacing:0.378px;color:#111;">Data Throughput</span>
<div style="position:absolute;left:1777.9px;top:257.8px;width:356.2px;height:2.2px;background:#e2e2e2;"></div>
<span class="t" style="left:1930.3px;top:283.0px;font-size:23.50px;letter-spacing:0.335px;color:#111;">IN: 0</span>
<span class="t" style="left:1871.0px;top:319.0px;font-size:23.50px;letter-spacing:0.102px;color:#111;">OUT: 17 KB/Min</span>
<span class="t" style="left:1899.3px;top:360.0px;font-size:17.00px;letter-spacing:0.315px;font-weight:700;color:#777;">Previous 1 Hr</span>
<span class="t" style="left:1930.3px;top:427.0px;font-size:23.50px;letter-spacing:0.335px;color:#111;">IN: 0</span>
<span class="t" style="left:1874.5px;top:463.0px;font-size:23.50px;letter-spacing:0.538px;color:#111;">OUT: 4 KB/Min</span>
<span class="t" style="left:1916.5px;top:503.0px;font-size:17.00px;letter-spacing:0.462px;font-weight:700;color:#777;">Next 1 Hr</span>
<div class="card" style="position:absolute;left:2168.0px;top:202.0px;width:255.6px;height:348.0px;background:#fff;"></div>
<span class="t" style="left:2185.9px;top:220.0px;font-size:24.50px;letter-spacing:0.125px;color:#111;">Exceptions</span>
<div style="position:absolute;left:2185.9px;top:257.8px;width:219.8px;height:2.2px;background:#e2e2e2;"></div>
<span class="t" style="left:2238.7px;top:269.0px;font-size:35.50px;letter-spacing:1.456px;color:#111;">0</span>
<span class="t" style="left:2288.7px;top:269.0px;font-size:35.50px;letter-spacing:1.923px;color:#111;">423</span>
<span class="t" style="left:2227.6px;top:317.0px;font-size:18.00px;letter-spacing:0.056px;color:#333;">Fatal</span>
<div style="position:absolute;left:2276.0px;top:315.2px;width:1.5px;height:22.1px;background:#d0d0d0;"></div>
<span class="t" style="left:2286.0px;top:317.0px;font-size:18.00px;letter-spacing:0.318px;color:#333;">Warnings</span>
<span class="t" style="left:2239.1px;top:352.0px;font-size:17.00px;letter-spacing:0.315px;font-weight:700;color:#777;">Previous 1 Hr</span>
<div style="position:absolute;left:2235.1px;top:383.4px;width:124.4px;height:5.3px;background:#560e06;"></div>
<span class="t" style="left:2253.3px;top:412.0px;font-size:35.50px;letter-spacing:-6.544px;color:#111;">1</span>
<div style="position:absolute;left:2284.0px;top:408.1px;width:1.5px;height:45.2px;background:#d0d0d0;"></div>
<span class="t" style="left:2294.9px;top:412.0px;font-size:35.50px;letter-spacing:1.456px;color:#111;">93</span>
<span class="t" style="left:2227.6px;top:460.0px;font-size:18.00px;letter-spacing:0.056px;color:#333;">Fatal</span>
<div style="position:absolute;left:2276.0px;top:458.1px;width:1.5px;height:23.1px;background:#d0d0d0;"></div>
<span class="t" style="left:2286.0px;top:460.0px;font-size:18.00px;letter-spacing:0.318px;color:#333;">Warnings</span>
<span class="t" style="left:2256.4px;top:496.0px;font-size:17.00px;letter-spacing:0.506px;font-weight:700;color:#777;">Next 1 Hr</span>
<div style="position:absolute;left:2228.9px;top:517.4px;width:136.3px;height:5.0px;background:#560e06;"></div>
<div class="card" style="position:absolute;left:2440.0px;top:202.0px;width:399.8px;height:348.0px;background:#fff;"></div>
<span class="t" style="left:2457.9px;top:220.0px;font-size:24.50px;letter-spacing:0.392px;color:#111;">Agent last communicated</span>
<div style="position:absolute;left:2457.9px;top:257.8px;width:364.0px;height:2.2px;background:#e2e2e2;"></div>
<span class="t" style="left:2545.3px;top:322.0px;font-size:29.50px;letter-spacing:0.580px;font-weight:700;color:#111;">a minute ago</span>
<span class="t" style="left:2521.9px;top:363.0px;font-size:21.00px;color:#111;">Mar 11, 2020 3:05:12 PM</span>
<div class="panel" style="position:absolute;left:119.8px;top:582.0px;width:1336.2px;height:836.0px;background:#fff;"></div>
<span class="t" style="left:137.8px;top:599.0px;font-size:25.00px;letter-spacing:0.051px;color:#111;">App Server Response Time Broken by Components</span>
<div style="position:absolute;left:137.8px;top:646.1px;width:1299.7px;height:2.0px;background:#e2e2e2;"></div>
<svg style="position:absolute;left:727.8px;top:601.7px" width="20" height="20" viewBox="0 0 20 20"><circle cx="10" cy="10" r="9.500" fill="#a3a3a3"/><path d="M8 8.200h3.200v5h1.300v1.600H7.700v-1.600H9v-3.400H8z M9 5h2.200v2H9z" fill="#fff"/></svg>
<div style="position:absolute;left:1196.3px;top:594.2px;width:187.5px;height:35.4px;border:1.800px solid #c9c9c9;box-sizing:border-box;"></div>
<div style="position:absolute;left:1204.1px;top:602.2px;width:55.8px;height:23.6px;border:2px solid #e2e2e2;background:#f5f5f5;box-sizing:border-box;"></div>
<span class="t" style="left:1214.5px;top:604.0px;font-size:17.00px;letter-spacing:-0.083px;color:#111;">Web</span>
<span class="t" style="left:1272.1px;top:604.0px;font-size:17.00px;letter-spacing:0.217px;color:#555;">Background</span>
<svg style="position:absolute;left:1402.7px;top:604.3px" width="17.4" height="15" viewBox="0 0 17.4 15"><rect x="0" y="0.00" width="17.4" height="2.400" fill="#cbcbcb"/><rect x="0" y="5.85" width="17.4" height="2.400" fill="#cbcbcb"/><rect x="0" y="11.70" width="17.4" height="2.400" fill="#cbcbcb"/></svg>
<svg style="position:absolute;left:119.5px;top:650.0px" width="1337.5" height="768.0" viewBox="119.5 650.0 1337.5 768.0" font-family="Liberation Sans, Arial, sans-serif">
<text x="218.200" y="1232.1" text-anchor="end" font-size="15.8" fill="#555">0</text>
<path d="M231.600 1145.8H1365.500" stroke="#ebebeb" stroke-width="1.500"/>
<text x="218.200" y="1151.6" text-anchor="end" font-size="15.8" fill="#555">200</text>
<path d="M231.600 1065.4H1365.500" stroke="#ebebeb" stroke-width="1.500"/>
<text x="218.200" y="1071.2" text-anchor="end" font-size="15.8" fill="#555">400</text>
<path d="M231.600 984.9H1365.500" stroke="#ebebeb" stroke-width="1.500"/>
<text x="218.200" y="990.7" text-anchor="end" font-size="15.8" fill="#555">600</text>
<path d="M231.600 904.5H1365.500" stroke="#ebebeb" stroke-width="1.500"/>
<text x="218.200" y="910.3" text-anchor="end" font-size="15.8" fill="#555">800</text>
<path d="M231.600 824.0H1365.500" stroke="#ebebeb" stroke-width="1.500"/>
<text x="218.200" y="829.8" text-anchor="end" font-size="15.8" fill="#555">1,000</text>
<path d="M231.600 743.6H1365.500" stroke="#ebebeb" stroke-width="1.500"/>
<text x="218.200" y="749.4" text-anchor="end" font-size="15.8" fill="#555">1,200</text>
<path d="M231.200 680.500V1231" stroke="#e4e4e4" stroke-width="1.800"/>
<path d="M222 1227.1H231.600" stroke="#dcdcdc" stroke-width="1.600"/>
<polygon points="231.6,1010.7 258.9,1082.0 287.4,967.6 315.3,1179.3 343.3,1048.8 371.8,1038.6 399.7,1082.8 427.9,999.2 456.1,990.9 484.7,1020.3 512.6,1118.0 540.5,706.1 568.4,1114.0 596.6,1006.4 624.8,1157.4 680.6,973.5 1159.6,959.0 1187.2,1153.1 1215.5,1100.2 1243.8,1118.3 1271.8,935.1 1300.1,1225.0 1300.1,1226.3 231.6,1226.3" fill="#71a994"/>
<polygon points="231.6,1024.0 258.9,1093.0 287.4,973.0 315.3,1181.5 343.3,1060.6 371.8,1059.7 399.7,1092.0 427.9,1020.3 456.1,1010.0 484.7,1036.4 512.6,1123.5 540.5,726.5 568.4,1126.4 596.6,1016.3 624.8,1160.5 680.6,989.0 1159.6,1006.8 1187.2,1155.8 1215.5,1108.7 1243.8,1129.2 1271.8,944.3 1300.1,1226.0 1300.1,1226.3 231.6,1226.3" fill="#84c4d1"/>
<clipPath id="areaclip"><polygon points="231.6,1010.7 258.9,1082.0 287.4,967.6 315.3,1179.3 343.3,1048.8 371.8,1038.6 399.7,1082.8 427.9,999.2 456.1,990.9 484.7,1020.3 512.6,1118.0 540.5,706.1 568.4,1114.0 596.6,1006.4 624.8,1157.4 680.6,973.5 1159.6,959.0 1187.2,1153.1 1215.5,1100.2 1243.8,1118.3 1271.8,935.1 1300.1,1225.0 1300.1,1226.3 231.6,1226.3"/></clipPath>
<path d="M231.600 1145.8H1300" stroke="#24423c" stroke-opacity=".045" stroke-width="1.600" clip-path="url(#areaclip)"/>
<path d="M231.600 1065.4H1300" stroke="#24423c" stroke-opacity=".045" stroke-width="1.600" clip-path="url(#areaclip)"/>
<path d="M231.600 984.9H1300" stroke="#24423c" stroke-opacity=".045" stroke-width="1.600" clip-path="url(#areaclip)"/>
<polyline points="231.6,1010.7 258.9,1082.0 287.4,967.6 315.3,1179.3 343.3,1048.8 371.8,1038.6 399.7,1082.8 427.9,999.2 456.1,990.9 484.7,1020.3 512.6,1118.0 540.5,706.1 568.4,1114.0 596.6,1006.4 624.8,1157.4 680.6,973.5 1159.6,959.0 1187.2,1153.1 1215.5,1100.2 1243.8,1118.3 1271.8,935.1 1300.1,1225.0" fill="none" stroke="#9b59e8" stroke-width="3.400" stroke-linejoin="miter"/>
<path d="M231.600 934.300H1365.500" stroke="#9ac245" stroke-width="1.900"/>
<text x="583.600" y="927.400" font-size="19.150" font-weight="700" fill="#555">Overall Response Time 95th Percentile =725 ms</text>
<path d="M794 681V1226" stroke="#747474" stroke-width="2.100" stroke-dasharray="8.500 7.600"/>
<g transform="translate(779.3 1200.2)"><path d="M4.3 .8h18a3.500 3.500 0 0 1 3.500 3.500v12a3.500 3.500 0 0 1-3.500 3.500h-1.200l-3.200 3.400-3.300-3.400H4.300a3.500 3.500 0 0 1-3.500-3.500v-12A3.500 3.500 0 0 1 4.300 .8z" fill="#fff" stroke="#2e3d52" stroke-width="1.600" stroke-linejoin="round"/><path d="M6 6h11M6 9.600h13.500M6 13.200h13.500" stroke="#2e3d52" stroke-width="1.500"/></g>
<path d="M231.600 1227.1H1365.500" stroke="#ebebeb" stroke-width="1.600"/>
<path d="M231.6 1227.1V1233.3" stroke="#dcdcdc" stroke-width="1.600"/>
<text x="231.6" y="1252.300" text-anchor="middle" font-size="17.4" fill="#555">12:40 PM</text>
<path d="M325.0 1227.1V1233.3" stroke="#dcdcdc" stroke-width="1.600"/>
<text x="325.0" y="1252.300" text-anchor="middle" font-size="17.4" fill="#555">12:50 PM</text>
<path d="M418.6 1227.1V1233.3" stroke="#dcdcdc" stroke-width="1.600"/>
<text x="418.6" y="1252.300" text-anchor="middle" font-size="17.4" fill="#555">01:00 PM</text>
<path d="M512.6 1227.1V1233.3" stroke="#dcdcdc" stroke-width="1.600"/>
<text x="512.6" y="1252.300" text-anchor="middle" font-size="17.4" fill="#555">01:10 PM</text>
<path d="M606.2 1227.1V1233.3" stroke="#dcdcdc" stroke-width="1.600"/>
<text x="606.2" y="1252.300" text-anchor="middle" font-size="17.4" fill="#555">01:20 PM</text>
<path d="M699.8 1227.1V1233.3" stroke="#dcdcdc" stroke-width="1.600"/>
<text x="699.8" y="1252.300" text-anchor="middle" font-size="17.4" fill="#555">01:30 PM</text>
<path d="M793.8 1227.1V1233.3" stroke="#dcdcdc" stroke-width="1.600"/>
<text x="793.8" y="1252.300" text-anchor="middle" font-size="17.4" fill="#555">01:40 PM</text>
<path d="M887.8 1227.1V1233.3" stroke="#dcdcdc" stroke-width="1.600"/>
<text x="887.8" y="1252.300" text-anchor="middle" font-size="17.4" fill="#555">01:50 PM</text>
<path d="M981.6 1227.1V1233.3" stroke="#dcdcdc" stroke-width="1.600"/>
<text x="981.6" y="1252.300" text-anchor="middle" font-size="17.4" fill="#555">02:00 PM</text>
<path d="M1075.4 1227.1V1233.3" stroke="#dcdcdc" stroke-width="1.600"/>
<text x="1075.4" y="1252.300" text-anchor="middle" font-size="17.4" fill="#555">02:10 PM</text>
<path d="M1168.8 1227.1V1233.3" stroke="#dcdcdc" stroke-width="1.600"/>
<text x="1168.8" y="1252.300" text-anchor="middle" font-size="17.4" fill="#555">02:20 PM</text>
<path d="M1262.6 1227.1V1233.3" stroke="#dcdcdc" stroke-width="1.600"/>
<text x="1262.6" y="1252.300" text-anchor="middle" font-size="17.4" fill="#555">02:30 PM</text>
<text x="1354" y="1252.300" text-anchor="middle" font-size="17.4" fill="#555">02:4.</text>
<rect x="187.0" y="1235.0" width="89.9" height="29.1" fill="none" stroke="#560e06" stroke-width="4.800"/>
<rect x="747.8" y="1233.2" width="95.1" height="34.7" fill="none" stroke="#560e06" stroke-width="4.800"/>
<rect x="1311.8" y="1229.1" width="83.2" height="34.9" fill="none" stroke="#560e06" stroke-width="4.800"/>
<text transform="translate(165.500 953) rotate(-90)" text-anchor="middle" font-size="17.300" fill="#555">Resp. Time (ms)</text>
<rect x="482.0" y="1282.200" width="15.600" height="15.600" fill="#67b3c4"/>
<text x="505.6" y="1295.900" font-size="15.800" fill="#555">HTTP CALL</text>
<rect x="594.3" y="1282.200" width="15.600" height="15.600" fill="#4f9379"/>
<text x="618.9" y="1295.900" font-size="15.800" fill="#555">APP CODE</text>
<rect x="704.2" y="1282.200" width="15.600" height="15.600" fill="#1f5de8"/>
<text x="728.5" y="1295.900" font-size="15.800" fill="#555">MEMCACHED</text>
<rect x="836.3" y="1282.200" width="15.600" height="15.600" fill="#9b59e8"/>
<text x="860.1" y="1295.900" font-size="15.800" fill="#555">Overall Response Time</text>
</svg>
<div class="panel" style="position:absolute;left:1504.0px;top:582.0px;width:1336.0px;height:268.0px;background:#fff;"></div>
<span class="t" style="left:1522.0px;top:599.0px;font-size:25.00px;letter-spacing:0.014px;color:#111;">Apdex Score</span>
<div style="position:absolute;left:1522.0px;top:637.9px;width:1299.5px;height:2.0px;background:#e2e2e2;"></div>
<svg style="position:absolute;left:1679.2px;top:601.9px" width="20" height="20" viewBox="0 0 20 20"><circle cx="10" cy="10" r="9.500" fill="#a3a3a3"/><path d="M8 8.200h3.200v5h1.300v1.600H7.700v-1.600H9v-3.400H8z M9 5h2.200v2H9z" fill="#fff"/></svg>
<svg style="position:absolute;left:2786.7px;top:603.8px" width="17.4" height="15" viewBox="0 0 17.4 15"><rect x="0" y="0.00" width="17.4" height="2.400" fill="#cbcbcb"/><rect x="0" y="5.85" width="17.4" height="2.400" fill="#cbcbcb"/><rect x="0" y="11.70" width="17.4" height="2.400" fill="#cbcbcb"/></svg>
<svg style="position:absolute;left:1504.0px;top:641.0px" width="1336.0" height="209.0" viewBox="1504.0 641.0 1336.0 209.0" font-family="Liberation Sans, Arial, sans-serif">
<rect x="1597.5" y="672.0" width="1152.8" height="13.1" fill="#f6fbfd"/>
<rect x="1597.5" y="685.1" width="1152.8" height="19.7" fill="#fdfef6"/>
<rect x="1597.5" y="704.9" width="1152.8" height="32.9" fill="#fefef6"/>
<rect x="1597.5" y="737.7" width="1152.8" height="43.8" fill="#fdf6f5"/>
<path d="M1597.5 685.200H2750.3" stroke="#a5e0e8" stroke-width="1.200"/>
<path d="M1597.5 704.500H2750.3" stroke="#a9d67c" stroke-width="1.400"/>
<path d="M1597.5 737.300H2750.3" stroke="#f08a80" stroke-width="1.400"/>
<path d="M1597.5 683H2750.3" stroke="#9ac245" stroke-width="1.900"/>
<text x="2080.700" y="674.700" font-size="19.150" font-weight="700" fill="#555">95th Percentile =0.95</text>
<rect x="1597.5" y="672.0" width="1152.8" height="109.5" fill="none" stroke="#d0d0d0" stroke-width="1.800"/>
<path d="M1597.5 672.0V788M1597.5 786.500H2750.3M2750.3 781.5V786.500" fill="none" stroke="#d8d8d8" stroke-width="1.600"/>
<path d="M2169 672.100V786" stroke="#747474" stroke-width="2.100" stroke-dasharray="8.500 7.600"/>
<polyline points="1597.5,722.1 1625.9,702.3 1654.6,728.5 1682.9,682.5 1711.3,717.5 1740.0,712.8 1768.7,706.4 1797.3,726.3 1825.7,726.3 1854.4,719.7 1883.0,697.6 1911.7,726.3 1940.1,693.5 1968.8,722.1 1997.4,684.4 2054.5,726.3 2540.6,730.7 2569.0,682.5 2597.9,704.5 2626.3,696.0 2655.0,742.8 2683.9,672.5" fill="none" stroke="#6cc574" stroke-width="3.400" stroke-linejoin="miter"/>
<g transform="translate(2155.0 715.5)"><path d="M4.3 .8h18a3.500 3.500 0 0 1 3.500 3.500v12a3.500 3.500 0 0 1-3.500 3.500h-1.200l-3.200 3.400-3.300-3.400H4.300a3.500 3.500 0 0 1-3.500-3.500v-12A3.500 3.500 0 0 1 4.300 .8z" fill="#fff" stroke="#2e3d52" stroke-width="1.600" stroke-linejoin="round"/><path d="M6 6h11M6 9.600h13.500M6 13.200h13.500" stroke="#2e3d52" stroke-width="1.500"/></g>
<text x="1583.500" y="677.8" text-anchor="end" font-size="15.8" fill="#555">1</text>
<text x="1583.500" y="721.6" text-anchor="end" font-size="15.8" fill="#555">0.8</text>
<text x="1583.500" y="765.4" text-anchor="end" font-size="15.8" fill="#555">0.6</text>
<text transform="translate(1550.500 729) rotate(-90)" text-anchor="middle" font-size="17.300" fill="#555">Apdex Score</text>
<path d="M1597.5 786.500V792.500" stroke="#d8d8d8" stroke-width="1.600"/>
<text x="1597.5" y="812.300" text-anchor="middle" font-size="17.4" fill="#555">12:40 P..</text>
<path d="M1692.6 786.500V792.500" stroke="#d8d8d8" stroke-width="1.600"/>
<text x="1692.6" y="812.300" text-anchor="middle" font-size="17.4" fill="#555">12:50 PM</text>
<path d="M1787.7 786.500V792.500" stroke="#d8d8d8" stroke-width="1.600"/>
<text x="1787.7" y="812.300" text-anchor="middle" font-size="17.4" fill="#555">01:00 PM</text>
<path d="M1883.0 786.500V792.500" stroke="#d8d8d8" stroke-width="1.600"/>
<text x="1883.0" y="812.300" text-anchor="middle" font-size="17.4" fill="#555">01:10 PM</text>
<path d="M1978.1 786.500V792.500" stroke="#d8d8d8" stroke-width="1.600"/>
<text x="1978.1" y="812.300" text-anchor="middle" font-size="17.4" fill="#555">01:20 PM</text>
<path d="M2073.5 786.500V792.500" stroke="#d8d8d8" stroke-width="1.600"/>
<text x="2073.5" y="812.300" text-anchor="middle" font-size="17.4" fill="#555">01:30 PM</text>
<path d="M2168.6 786.500V792.500" stroke="#d8d8d8" stroke-width="1.600"/>
<text x="2168.6" y="812.300" text-anchor="middle" font-size="17.4" fill="#555">01:40 PM</text>
<path d="M2263.8 786.500V792.500" stroke="#d8d8d8" stroke-width="1.600"/>
<text x="2263.8" y="812.300" text-anchor="middle" font-size="17.4" fill="#555">01:50 PM</text>
<path d="M2359.2 786.500V792.500" stroke="#d8d8d8" stroke-width="1.600"/>
<text x="2359.2" y="812.300" text-anchor="middle" font-size="17.4" fill="#555">02:00 PM</text>
<path d="M2454.6 786.500V792.500" stroke="#d8d8d8" stroke-width="1.600"/>
<text x="2454.6" y="812.300" text-anchor="middle" font-size="17.4" fill="#555">02:10 PM</text>
<path d="M2549.7 786.500V792.500" stroke="#d8d8d8" stroke-width="1.600"/>
<text x="2549.7" y="812.300" text-anchor="middle" font-size="17.4" fill="#555">02:20 PM</text>
<path d="M2645.3 786.500V792.500" stroke="#d8d8d8" stroke-width="1.600"/>
<text x="2645.3" y="812.300" text-anchor="middle" font-size="17.4" fill="#555">02:30 PM</text>
<path d="M2740.1 786.500V792.500" stroke="#d8d8d8" stroke-width="1.600"/>
<text x="2737.4" y="812.300" text-anchor="middle" font-size="17.4" fill="#555">02:4.</text>
</svg>
<div class="panel" style="position:absolute;left:1504.0px;top:866.0px;width:1336.0px;height:268.0px;background:#fff;"></div>
<span class="t" style="left:1522.0px;top:883.0px;font-size:25.00px;letter-spacing:0.073px;color:#111;">Request Throughput</span>
<div style="position:absolute;left:1522.0px;top:922.0px;width:1299.5px;height:2.0px;background:#e2e2e2;"></div>
<svg style="position:absolute;left:1763.8px;top:885.2px" width="20" height="20" viewBox="0 0 20 20"><circle cx="10" cy="10" r="9.500" fill="#a3a3a3"/><path d="M8 8.200h3.200v5h1.300v1.600H7.700v-1.600H9v-3.400H8z M9 5h2.200v2H9z" fill="#fff"/></svg>
<svg style="position:absolute;left:2786.7px;top:887.8px" width="17.4" height="15" viewBox="0 0 17.4 15"><rect x="0" y="0.00" width="17.4" height="2.400" fill="#cbcbcb"/><rect x="0" y="5.85" width="17.4" height="2.400" fill="#cbcbcb"/><rect x="0" y="11.70" width="17.4" height="2.400" fill="#cbcbcb"/></svg>
<svg style="position:absolute;left:1504.0px;top:925.0px" width="1336.0" height="209.0" viewBox="1504.0 925.0 1336.0 209.0" font-family="Liberation Sans, Arial, sans-serif">
<path d="M1593.4 979H2750.0M1593.4 1025.300H2750.0" stroke="#ebebeb" stroke-width="1.500"/>
<path d="M1593.4 956V1076" stroke="#dcdcdc" stroke-width="1.600"/>
<path d="M1593.4 1070.500H2750.0" stroke="#dcdcdc" stroke-width="1.600"/>
<path d="M1593.4 1002.100H2750.0" stroke="#8fccf2" stroke-width="1.800"/>
<path d="M1593.4 976.200H2750.0" stroke="#9ac245" stroke-width="1.900"/>
<text x="2050.900" y="969.100" font-size="19.150" font-weight="700" fill="#555">95th Percentile =10.33 cpm</text>
<path d="M2166.800 957.300V1070" stroke="#747474" stroke-width="2.100" stroke-dasharray="8.500 7.600"/>
<polyline points="1593.4,1022.3 1622.3,1003.8 1650.4,976.2 1678.8,1031.9 1707.8,998.0 1736.1,994.7 1764.8,998.0 1793.5,988.6 1822.1,988.6 1851.1,961.1 1879.7,992.0 1908.4,976.2 1937.1,1007.1 1965.7,1001.0 1994.4,982.6 2023.3,979.3 2052.0,1022.5 2539.5,1018.7 2568.4,1040.7 2597.4,1003.8 2626.0,1003.8 2655.0,991.7 2683.4,1064.4" fill="none" stroke="#57b560" stroke-width="3.600" stroke-linejoin="miter"/>
<g transform="translate(2152.3 1040.0)"><path d="M4.3 .8h18a3.500 3.500 0 0 1 3.500 3.500v12a3.500 3.500 0 0 1-3.500 3.500h-1.200l-3.200 3.400-3.300-3.400H4.300a3.500 3.500 0 0 1-3.500-3.500v-12A3.500 3.500 0 0 1 4.300 .8z" fill="#fff" stroke="#2e3d52" stroke-width="1.600" stroke-linejoin="round"/><path d="M6 6h11M6 9.600h13.500M6 13.200h13.500" stroke="#2e3d52" stroke-width="1.500"/></g>
<text x="1580.500" y="984.8" text-anchor="end" font-size="15.8" fill="#555">10</text>
<text x="1580.500" y="1031.1" text-anchor="end" font-size="15.8" fill="#555">5</text>
<text transform="translate(1550.500 1013) rotate(-90)" text-anchor="middle" font-size="17.300" fill="#555">Throughput (cpm)</text>
<path d="M1593.4 1070.500V1076.500" stroke="#dcdcdc" stroke-width="1.600"/>
<text x="1593.4" y="1096.300" text-anchor="middle" font-size="17.4" fill="#555">12:40 P..</text>
<path d="M1688.5 1070.500V1076.500" stroke="#dcdcdc" stroke-width="1.600"/>
<text x="1688.5" y="1096.300" text-anchor="middle" font-size="17.4" fill="#555">12:50 PM</text>
<path d="M1784.1 1070.500V1076.500" stroke="#dcdcdc" stroke-width="1.600"/>
<text x="1784.1" y="1096.300" text-anchor="middle" font-size="17.4" fill="#555">01:00 PM</text>
<path d="M1879.5 1070.500V1076.500" stroke="#dcdcdc" stroke-width="1.600"/>
<text x="1879.5" y="1096.300" text-anchor="middle" font-size="17.4" fill="#555">01:10 PM</text>
<path d="M1975.1 1070.500V1076.500" stroke="#dcdcdc" stroke-width="1.600"/>
<text x="1975.1" y="1096.300" text-anchor="middle" font-size="17.4" fill="#555">01:20 PM</text>
<path d="M2070.8 1070.500V1076.500" stroke="#dcdcdc" stroke-width="1.600"/>
<text x="2070.8" y="1096.300" text-anchor="middle" font-size="17.4" fill="#555">01:30 PM</text>
<path d="M2166.7 1070.500V1076.500" stroke="#dcdcdc" stroke-width="1.600"/>
<text x="2166.7" y="1096.300" text-anchor="middle" font-size="17.4" fill="#555">01:40 PM</text>
<path d="M2262.5 1070.500V1076.500" stroke="#dcdcdc" stroke-width="1.600"/>
<text x="2262.5" y="1096.300" text-anchor="middle" font-size="17.4" fill="#555">01:50 PM</text>
<path d="M2357.8 1070.500V1076.500" stroke="#dcdcdc" stroke-width="1.600"/>
<text x="2357.8" y="1096.300" text-anchor="middle" font-size="17.4" fill="#555">02:00 PM</text>
<path d="M2453.2 1070.500V1076.500" stroke="#dcdcdc" stroke-width="1.600"/>
<text x="2453.2" y="1096.300" text-anchor="middle" font-size="17.4" fill="#555">02:10 PM</text>
<path d="M2548.6 1070.500V1076.500" stroke="#dcdcdc" stroke-width="1.600"/>
<text x="2548.6" y="1096.300" text-anchor="middle" font-size="17.4" fill="#555">02:20 PM</text>
<path d="M2644.8 1070.500V1076.500" stroke="#dcdcdc" stroke-width="1.600"/>
<text x="2644.8" y="1096.300" text-anchor="middle" font-size="17.4" fill="#555">02:30 PM</text>
<path d="M2740.1 1070.500V1076.500" stroke="#dcdcdc" stroke-width="1.600"/>
<text x="2737.4" y="1096.300" text-anchor="middle" font-size="17.4" fill="#555">02:4.</text>
</svg>
<div class="panel" style="position:absolute;left:1504.0px;top:1150.0px;width:1336.0px;height:268.0px;background:#fff;"></div>
<span class="t" style="left:1522.0px;top:1167.0px;font-size:25.00px;letter-spacing:0.142px;color:#111;">Data Throughput</span>
<div style="position:absolute;left:1522.0px;top:1206.2px;width:1299.5px;height:2.0px;background:#e2e2e2;"></div>
<svg style="position:absolute;left:1724.4px;top:1169.4px" width="20" height="20" viewBox="0 0 20 20"><circle cx="10" cy="10" r="9.500" fill="#a3a3a3"/><path d="M8 8.200h3.200v5h1.300v1.600H7.700v-1.600H9v-3.400H8z M9 5h2.200v2H9z" fill="#fff"/></svg>
<svg style="position:absolute;left:2786.7px;top:1172.0px" width="17.4" height="15" viewBox="0 0 17.4 15"><rect x="0" y="0.00" width="17.4" height="2.400" fill="#cbcbcb"/><rect x="0" y="5.85" width="17.4" height="2.400" fill="#cbcbcb"/><rect x="0" y="11.70" width="17.4" height="2.400" fill="#cbcbcb"/></svg>
<svg style="position:absolute;left:1504.0px;top:1209.0px" width="1336.0" height="209.0" viewBox="1504.0 1209.0 1336.0 209.0" font-family="Liberation Sans, Arial, sans-serif">
<path d="M1593.4 1269.700H2614.0M1587.4 1349.700H2614.0" stroke="#ebebeb" stroke-width="1.500"/>
<path d="M1593.4 1240V1359" stroke="#dcdcdc" stroke-width="1.600"/>
<path d="M1593.4 1354.500H2614.0" stroke="#e8e8e8" stroke-width="1.600"/>
<path d="M2099.200 1241.300V1350" stroke="#747474" stroke-width="2.100" stroke-dasharray="8.500 7.600"/>
<path d="M1593.4 1349.500H2554.900" stroke="#5fb2c4" stroke-width="3.200"/>
<polyline points="1593.4,1294.6 1618.2,1273.9 1643.3,1244.7 1668.6,1307.0 1694.2,1276.4 1719.6,1272.5 1745.0,1268.6 1770.0,1272.0 1795.4,1264.2 1820.8,1249.3 1846.1,1260.7 1871.5,1261.5 1896.8,1285.7 1921.9,1278.3 1947.3,1252.9 1972.6,1245.2 1998.0,1298.4 2428.4,1302.5 2453.5,1309.2 2478.8,1278.3 2504.2,1274.2 2529.8,1264.2 2554.9,1341.4" fill="none" stroke="#4a9179" stroke-width="3.400" stroke-linejoin="miter"/>
<g transform="translate(2084.5 1324.3)"><path d="M4.3 .8h18a3.500 3.500 0 0 1 3.500 3.500v12a3.500 3.500 0 0 1-3.500 3.500h-1.200l-3.200 3.400-3.300-3.400H4.300a3.500 3.500 0 0 1-3.500-3.500v-12A3.500 3.500 0 0 1 4.300 .8z" fill="#fff" stroke="#2e3d52" stroke-width="1.600" stroke-linejoin="round"/><path d="M6 6h11M6 9.600h13.500M6 13.200h13.500" stroke="#2e3d52" stroke-width="1.500"/></g>
<text x="1580.500" y="1275.5" text-anchor="end" font-size="15.8" fill="#555">20</text>
<text x="1580.500" y="1355.5" text-anchor="end" font-size="15.8" fill="#555">0</text>
<text transform="translate(1550.500 1298) rotate(-90)" text-anchor="middle" font-size="17.300" fill="#555">KB/Min</text>
<path d="M1593.4 1354.500V1360.500" stroke="#dcdcdc" stroke-width="1.600"/>
<text x="1593.4" y="1380.300" text-anchor="middle" font-size="17.4" fill="#555">12:40 P..</text>
<path d="M1694.0 1354.500V1360.500" stroke="#dcdcdc" stroke-width="1.600"/>
<text x="1694.0" y="1380.300" text-anchor="middle" font-size="17.4" fill="#555">12:52 PM</text>
<path d="M1795.1 1354.500V1360.500" stroke="#dcdcdc" stroke-width="1.600"/>
<text x="1795.1" y="1380.300" text-anchor="middle" font-size="17.4" fill="#555">01:04 PM</text>
<path d="M1896.3 1354.500V1360.500" stroke="#dcdcdc" stroke-width="1.600"/>
<text x="1896.3" y="1380.300" text-anchor="middle" font-size="17.4" fill="#555">01:16 PM</text>
<path d="M1998.0 1354.500V1360.500" stroke="#dcdcdc" stroke-width="1.600"/>
<text x="1998.0" y="1380.300" text-anchor="middle" font-size="17.4" fill="#555">01:28 PM</text>
<path d="M2099.1 1354.500V1360.500" stroke="#dcdcdc" stroke-width="1.600"/>
<text x="2099.1" y="1380.300" text-anchor="middle" font-size="17.4" fill="#555">01:40 PM</text>
<path d="M2200.2 1354.500V1360.500" stroke="#dcdcdc" stroke-width="1.600"/>
<text x="2200.2" y="1380.300" text-anchor="middle" font-size="17.4" fill="#555">01:52 PM</text>
<path d="M2301.6 1354.500V1360.500" stroke="#dcdcdc" stroke-width="1.600"/>
<text x="2301.6" y="1380.300" text-anchor="middle" font-size="17.4" fill="#555">02:04 PM</text>
<path d="M2402.8 1354.500V1360.500" stroke="#dcdcdc" stroke-width="1.600"/>
<text x="2402.8" y="1380.300" text-anchor="middle" font-size="17.4" fill="#555">02:16 PM</text>
<path d="M2504.2 1354.500V1360.500" stroke="#dcdcdc" stroke-width="1.600"/>
<text x="2504.2" y="1380.300" text-anchor="middle" font-size="17.4" fill="#555">02:28 PM</text>
<path d="M2605.3 1354.500V1360.500" stroke="#dcdcdc" stroke-width="1.600"/>
<text x="2605.3" y="1380.300" text-anchor="middle" font-size="17.4" fill="#555">02:40 PM</text>
<rect x="2640.100" y="1232" width="15.700" height="15.700" fill="#67b3c4"/><rect x="2640.100" y="1252.100" width="15.700" height="15.700" fill="#4f9379"/>
<text x="2665.400" y="1243.800" font-size="15.800" fill="#555">Bytes In</text><text x="2665.400" y="1265.900" font-size="15.800" fill="#555">Bytes Out</text>
</svg>
<span class="t" style="left:2641.2px;top:1276.0px;font-size:16.50px;letter-spacing:-0.312px;color:#111;">1 more...</span>
</body></html>
